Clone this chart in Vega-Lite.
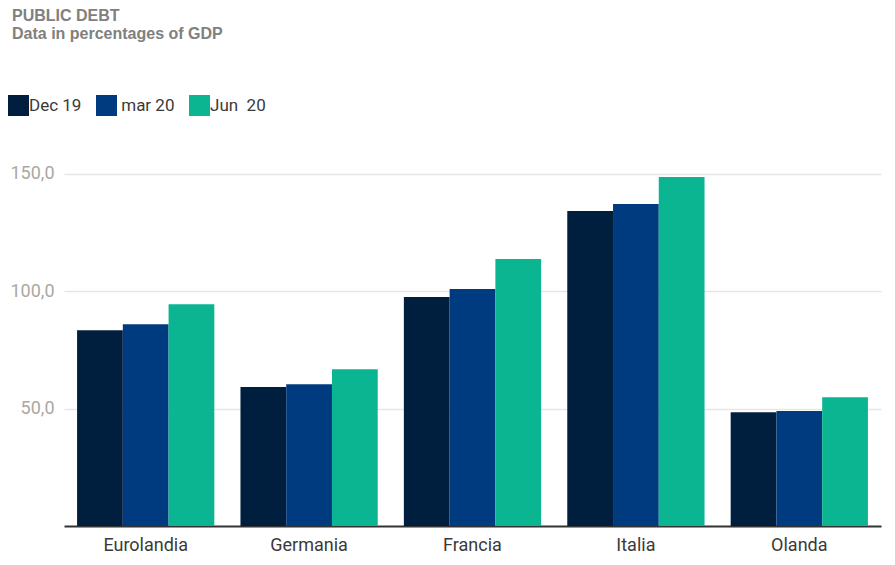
{
  "$schema": "https://vega.github.io/schema/vega-lite/v6.json",
  "width": 817,
  "height": 376,
  "autosize": "none",
  "padding": {"left": 64, "top": 150, "right": 14, "bottom": 39},
  "background": "white",
  "title": {
    "text": "PUBLIC DEBT",
    "subtitle": "Data in percentages of GDP",
    "anchor": "start",
    "frame": "group",
    "dx": -52,
    "offset": 53,
    "font": "Liberation Sans",
    "fontSize": 16,
    "fontWeight": "bold",
    "color": "#808080",
    "subtitleFont": "Liberation Sans",
    "subtitleFontSize": 16,
    "subtitleFontWeight": "bold",
    "subtitleColor": "#808080",
    "subtitlePadding": 2
  },
  "data": {
    "values": [
      {"country": "Eurolandia", "period": "Dec 19", "value": 83.3},
      {"country": "Eurolandia", "period": "mar 20", "value": 85.9},
      {"country": "Eurolandia", "period": "Jun 20", "value": 94.4},
      {"country": "Germania", "period": "Dec 19", "value": 59.2},
      {"country": "Germania", "period": "mar 20", "value": 60.3},
      {"country": "Germania", "period": "Jun 20", "value": 66.7},
      {"country": "Francia", "period": "Dec 19", "value": 97.4},
      {"country": "Francia", "period": "mar 20", "value": 100.8},
      {"country": "Francia", "period": "Jun 20", "value": 113.6},
      {"country": "Italia", "period": "Dec 19", "value": 134.0},
      {"country": "Italia", "period": "mar 20", "value": 137.0},
      {"country": "Italia", "period": "Jun 20", "value": 148.5},
      {"country": "Olanda", "period": "Dec 19", "value": 48.4},
      {"country": "Olanda", "period": "mar 20", "value": 48.9},
      {"country": "Olanda", "period": "Jun 20", "value": 54.8}
    ]
  },
  "mark": {"type": "bar"},
  "encoding": {
    "x": {
      "field": "country",
      "type": "nominal",
      "sort": null,
      "scale": {"paddingInner": 0.16, "paddingOuter": 0.08},
      "axis": {
        "title": null,
        "labelAngle": 0,
        "labelFont": "Roboto",
        "labelFontSize": 18,
        "labelColor": "#3a3a3a",
        "labelPadding": 10,
        "ticks": false,
        "domainColor": "#333333",
        "domainWidth": 2
      }
    },
    "xOffset": {
      "field": "period",
      "type": "nominal",
      "sort": ["Dec 19", "mar 20", "Jun 20"],
      "scale": {"paddingInner": 0, "paddingOuter": 0}
    },
    "y": {
      "field": "value",
      "type": "quantitative",
      "scale": {"domain": [0, 160], "nice": false},
      "axis": {
        "title": null,
        "values": [50, 100, 150],
        "labelExpr": "replace(format(datum.value, '.1f'), '.', ',')",
        "labelFont": "Roboto",
        "labelFontSize": 18,
        "labelColor": "#aca7a2",
        "labelPadding": 10,
        "ticks": false,
        "domain": false,
        "gridColor": "#e6e6e6",
        "gridWidth": 1.3
      }
    },
    "color": {
      "field": "period",
      "type": "nominal",
      "sort": ["Dec 19", "mar 20", "Jun 20"],
      "scale": {"range": ["#001f3f", "#003b7f", "#0cb592"]},
      "legend": {
        "title": null,
        "orient": "none",
        "direction": "horizontal",
        "legendX": -56,
        "legendY": -55,
        "symbolType": "square",
        "symbolSize": 441,
        "symbolStrokeWidth": 0,
        "symbolOpacity": 1,
        "labelFont": "Roboto",
        "labelFontSize": 17,
        "labelColor": "#3a3a3a",
        "labelOffset": 0,
        "labelExpr": "datum.label == 'mar 20' ? '\u200b\u00a0mar 20' : datum.label == 'Jun 20' ? 'Jun\u00a0\u00a020' : datum.label",
        "columnPadding": 14
      }
    }
  },
  "config": {
    "view": {"stroke": null}
  }
}
